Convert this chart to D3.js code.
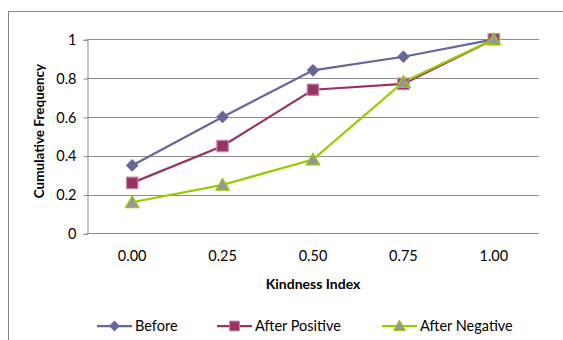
<!DOCTYPE html>
<html>
<head>
<meta charset="utf-8">
<script src="https://cdn.jsdelivr.net/npm/d3@7"></script>
<style>
  body { margin: 0; background: #fff; }
  svg { display: block; font-family: Lato, "Open Sans", sans-serif; }
</style>
</head>
<body>
<svg id="chart" width="563" height="340"></svg>
<script>
// data
var categories = ["0.00", "0.25", "0.50", "0.75", "1.00"];
var yTicks = [0, 0.2, 0.4, 0.6, 0.8, 1];
var before = [0.35, 0.60, 0.84, 0.91, 1.0];
var afterPositive = [0.26, 0.45, 0.74, 0.77, 1.0];
var afterNegative = [0.16, 0.25, 0.38, 0.78, 1.0];
var seriesNames = ["Before", "After Positive", "After Negative"];

var series = [
  {name: seriesNames[0], values: before, line: "#666699", fill: "#666699", stroke: "#666699", symbol: d3.symbolSquare, rot: 45, size: 60},
  {name: seriesNames[1], values: afterPositive, line: "#993366", fill: "#993366", stroke: "#c58aa6", symbol: d3.symbolSquare, rot: 0, size: 130},
  {name: seriesNames[2], values: afterNegative, line: "#99cc00", fill: "#969696", stroke: "#99cc00", symbol: d3.symbolTriangle, rot: 0, size: 80}
];

var svg = d3.select("#chart");
var MARGINS = {left: 87, right: 539, top: 39.3, bottom: 233.3};

// outer chart frame (runs off the right and bottom edge)
svg.append("rect")
  .attr("x", 8.5).attr("y", 11.5)
  .attr("width", 600).attr("height", 400)
  .attr("fill", "none").attr("stroke", "#888").attr("stroke-width", 1);

var x = d3.scaleBand().domain(categories).range([MARGINS.left, MARGINS.right]);
var y = d3.scaleLinear().domain([0, 1]).range([MARGINS.bottom, MARGINS.top]);

// gridlines
svg.append("g").selectAll("line").data(yTicks.slice(1)).join("line")
  .attr("x1", MARGINS.left).attr("x2", MARGINS.right)
  .attr("y1", function(d){ return Math.round(y(d)) + 0.5; })
  .attr("y2", function(d){ return Math.round(y(d)) + 0.5; })
  .attr("stroke", "#8c8c8c").attr("stroke-width", 1);

// y axis
var yAxis = svg.append("g")
  .attr("transform", "translate(" + (MARGINS.left + 0.5) + ",0.5)")
  .call(d3.axisLeft(y).tickValues(yTicks).tickSize(4).tickPadding(7)
    .tickFormat(function(d){ return d3.format("~g")(d); }));
yAxis.selectAll("path, line").attr("stroke", "#8c8c8c");
yAxis.selectAll("text").attr("font-size", 14.5).attr("fill", "#000")
  .attr("font-family", "Lato, sans-serif");

// x axis
var xAxis = svg.append("g")
  .attr("transform", "translate(0," + (Math.round(MARGINS.bottom) + 0.5) + ")")
  .call(d3.axisBottom(x).tickSize(0).tickPadding(17));
xAxis.select("path").attr("stroke", "#8c8c8c").attr("d", "M" + MARGINS.left + ",0H" + MARGINS.right);
xAxis.selectAll("text").attr("font-size", 14.5).attr("fill", "#000")
  .attr("font-family", "Lato, sans-serif");

// axis titles
svg.append("text")
  .attr("x", (MARGINS.left + MARGINS.right) / 2).attr("y", 289)
  .attr("text-anchor", "middle").attr("font-size", 14).attr("font-weight", "bold")
  .text("Kindness Index");
svg.append("text")
  .attr("transform", "translate(44,131) rotate(-90)")
  .attr("text-anchor", "middle").attr("font-size", 13.5).attr("font-weight", "bold")
  .text("Cumulative Frequency");

var line = d3.line()
  .x(function(d, i){ return x(categories[i]) + x.bandwidth() / 2; })
  .y(function(d){ return y(d); });

series.forEach(function(s){
  svg.append("path")
    .attr("d", line(s.values))
    .attr("fill", "none").attr("stroke", s.line).attr("stroke-width", 2.25);
});
series.forEach(function(s){
  svg.append("g").selectAll("path").data(s.values).join("path")
    .attr("transform", function(d, i){
      var dy = s.symbol === d3.symbolTriangle ? 1.5 : 0;
      return "translate(" + (x(categories[i]) + x.bandwidth() / 2) + "," + (y(d) + dy) + ") rotate(" + s.rot + ")";
    })
    .attr("d", d3.symbol().type(s.symbol).size(s.size))
    .attr("fill", s.fill).attr("stroke", s.stroke).attr("stroke-width", 1.2);
});

// legend
var legendX = [97, 217, 382];
var legend = svg.append("g");
series.forEach(function(s, i){
  var g = legend.append("g").attr("transform", "translate(" + legendX[i] + ",326)");
  g.append("line").attr("x1", 0).attr("x2", 35).attr("stroke", s.line).attr("stroke-width", 2.25);
  g.append("path")
    .attr("transform", "translate(17.5," + (s.symbol === d3.symbolTriangle ? 1 : 0) + ") rotate(" + s.rot + ")")
    .attr("d", d3.symbol().type(s.symbol).size(s.size * 0.75))
    .attr("fill", s.fill).attr("stroke", s.stroke).attr("stroke-width", 1);
  g.append("text").attr("x", 38).attr("y", 5).attr("font-size", 14.5).text(s.name);
});
</script>
</body>
</html>
